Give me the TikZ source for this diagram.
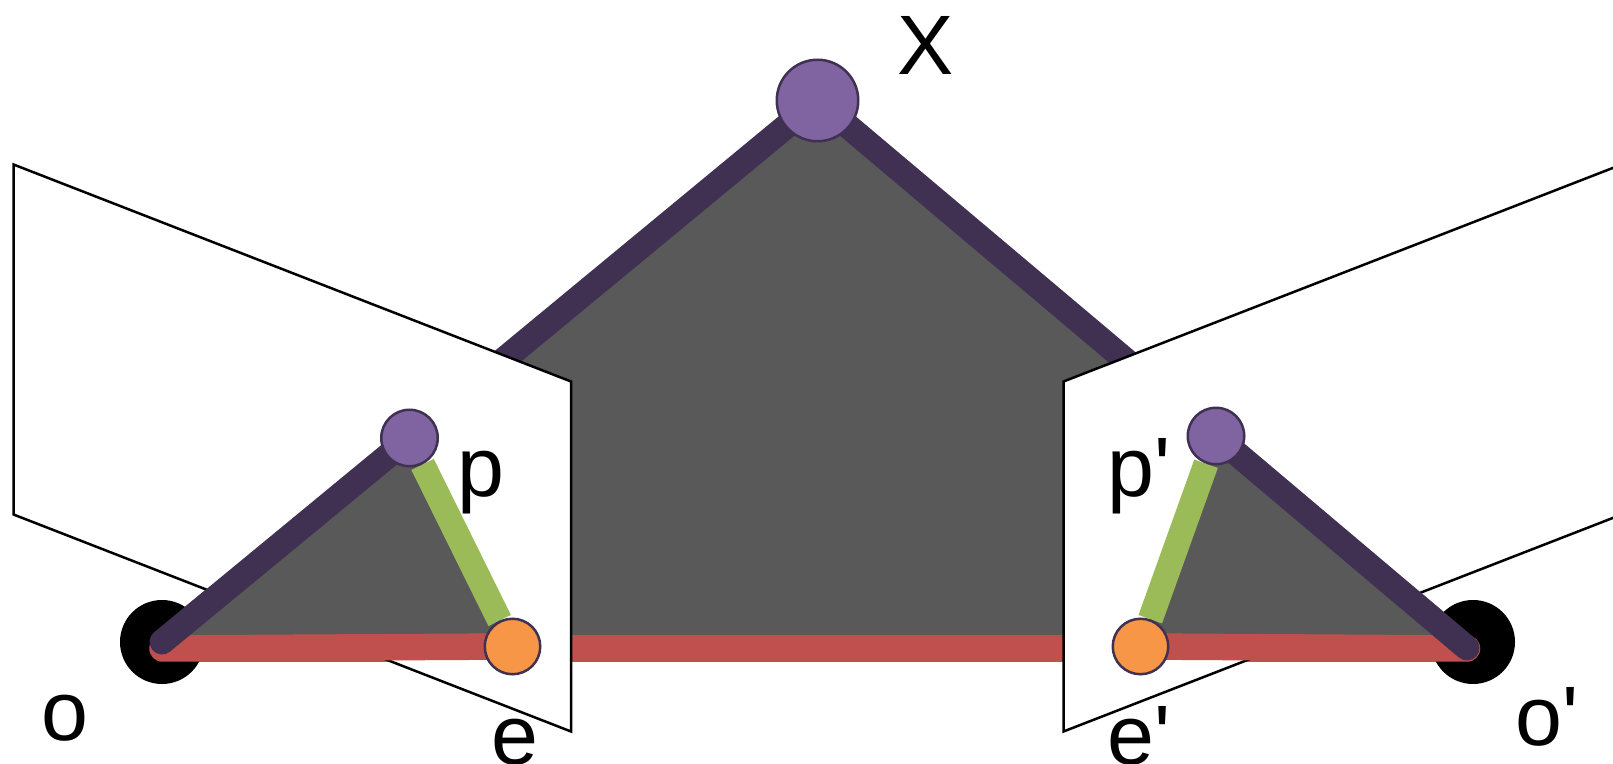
\documentclass[tikz,border=0pt]{standalone}
\usepackage{xcolor}
\usepackage{fontspec}
\newfontfamily\labelfont{Liberation Sans}
\definecolor{raydark}{HTML}{403152}
\definecolor{ptpurple}{HTML}{8064A2}
\definecolor{ptorange}{HTML}{F79646}
\definecolor{basered}{HTML}{C0504D}
\definecolor{epigreen}{HTML}{9BBB59}
\definecolor{fillgray}{HTML}{595959}
\pgfdeclarelayer{scene}
\pgfdeclarelayer{wings}
\pgfdeclarelayer{lines}
\pgfsetlayers{scene,wings,lines,main}

\begin{document}
\begin{tikzpicture}[
  dot/.style={circle, draw=raydark, line width=0.05cm, inner sep=0pt},
  cam/.style={circle, fill=black, inner sep=0pt, minimum size=1.68cm},
  ray/.style={draw=raydark, line width=0.5cm, line cap=round},
  base/.style={draw=basered, line width=0.53cm, line cap=round},
  epi/.style={draw=epigreen, line width=0.5cm},
  wing/.style={draw=black, fill=white, line width=0.05cm, line join=miter},
  lbl/.style={inner sep=0pt, anchor=base west, font=\labelfont\fontsize{48}{50}\selectfont}
]
\useasboundingbox (0,0) rectangle (32.26,-15.28);

\node[dot, fill=ptpurple, minimum size=1.63cm] at (16.35,-2.01)  (ptX)  {};
\node[dot, fill=ptpurple, minimum size=1.13cm] at (8.19,-8.76)   (ptP)  {};
\node[dot, fill=ptpurple, minimum size=1.13cm] at (24.32,-8.72)  (ptPr) {};
\node[dot, fill=ptorange, minimum size=1.11cm] at (10.25,-12.93) (ptE)  {};
\node[dot, fill=ptorange, minimum size=1.11cm] at (22.81,-12.93) (ptEr) {};

\coordinate (baseL) at (3.25,-12.97);
\coordinate (baseR) at (29.34,-12.97);
\coordinate (rayR)  at (29.34,-12.96);

% big triangle, behind the planes
\begin{pgfonlayer}{scene}
\fill[fillgray] (ptX.center) -- (baseL) -- (baseR) -- cycle;
\draw[base] (baseL) -- (baseR);
\draw[ray] (ptX.center) -- (3.24,-12.84);
\draw[ray] (ptX.center) -- (rayR);
\end{pgfonlayer}

\begin{pgfonlayer}{wings}
\draw[wing] (0.27,-3.29) -- (11.42,-7.63) -- (11.42,-14.63) -- (0.27,-10.29) -- cycle;
\draw[wing] (33,-3.07) -- (21.27,-7.63) -- (21.27,-14.63) -- (33,-10.07) -- cycle;
\node[cam] at (3.24,-12.84)  (camL) {};
\node[cam] at (29.46,-12.84) (camR) {};
\end{pgfonlayer}

% small triangles, on the planes
\begin{pgfonlayer}{lines}
\fill[fillgray] (ptP.center) -- (camL.center) -- (ptE.center) -- cycle;
\fill[fillgray] (ptPr.center) -- (rayR) -- (ptEr.center) -- cycle;
\draw[epi] (ptP) -- (ptE);
\draw[epi] (ptPr) -- (ptEr);
\draw[base] (baseL) -- (ptE.center);
\draw[base] (baseR) -- (ptEr.center);
\draw[ray] (ptP.center) -- (camL.center);
\draw[ray] (ptPr.center) -- (rayR);
\end{pgfonlayer}

\node[lbl] at (17.95,-1.5)   (lblX)  {X};
\node[lbl] at (9.15,-9.94)   (lblP)  {p};
\node[lbl] at (22.15,-9.94)  (lblPr) {p'};
\node[lbl] at (0.83,-14.82)  (lblO)  {o};
\node[lbl] at (30.3,-14.92)  (lblOr) {o'};
\node[lbl] at (9.83,-15.3)   (lblE)  {e};
\node[lbl] at (22.15,-15.3)  (lblEr) {e'};
\end{tikzpicture}
\end{document}
